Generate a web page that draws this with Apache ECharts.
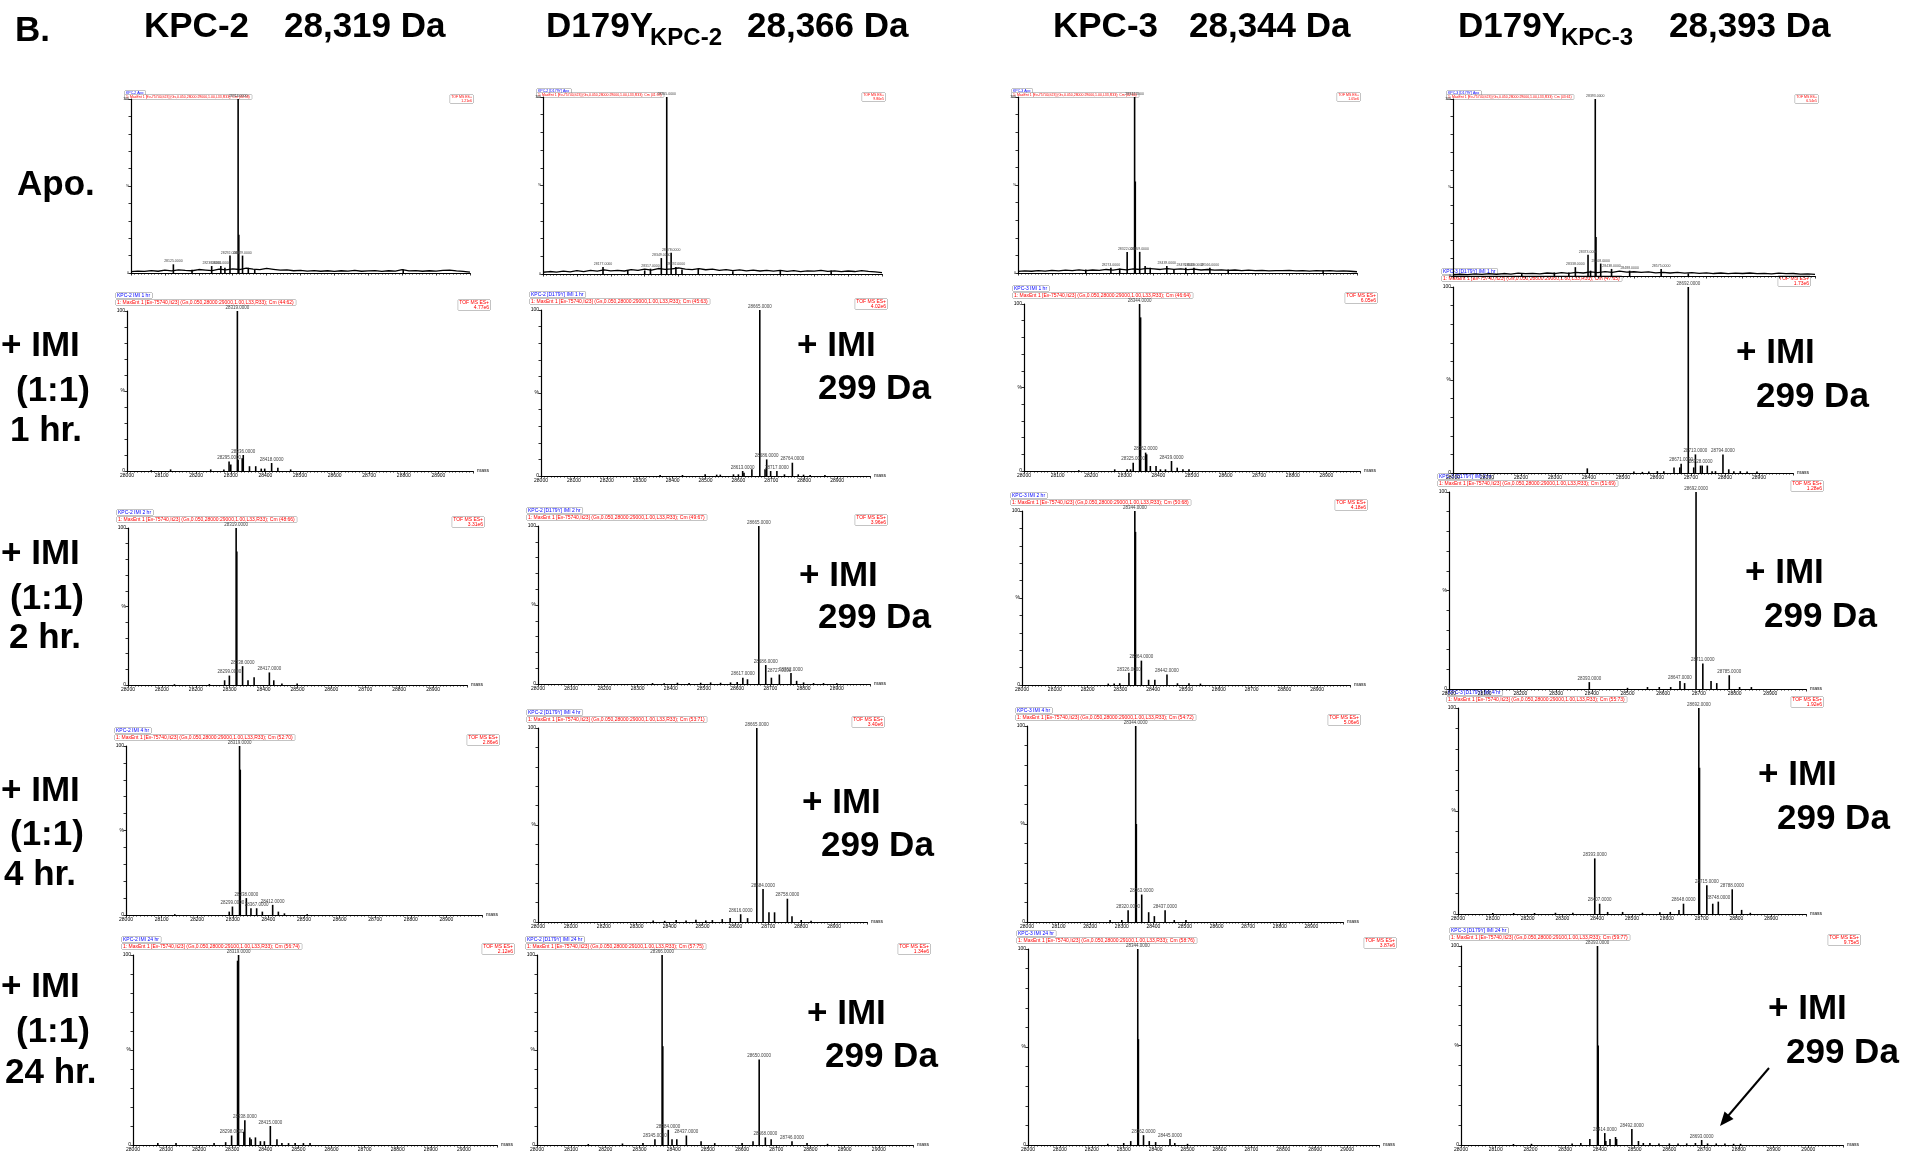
<!DOCTYPE html>
<html><head><meta charset="utf-8">
<script src="https://cdn.jsdelivr.net/npm/echarts@6/dist/echarts.min.js"></script>
<style>html,body{margin:0;padding:0;background:#fff}#c{width:1908px;height:1152px}</style>
</head><body><div id="c"></div>
<script>
// ---------------- DATA ----------------
const columnNames = ["KPC-2", "D179Y", "KPC-3", "D179Y"];
const columnSubs = ["", "KPC-2", "", "KPC-3"];
const columnMasses = ["28,319 Da", "28,366 Da", "28,344 Da", "28,393 Da"];
const rowLabels = [["Apo."], ["+ IMI", "(1:1)", "1 hr."], ["+ IMI", "(1:1)", "2 hr."], ["+ IMI", "(1:1)", "4 hr."], ["+ IMI", "(1:1)", "24 hr."]];
const adductLabel = ["+ IMI", "299 Da"];
const variantTags = ["KPC-2", "KPC-2 [D179Y]", "KPC-3", "KPC-3 [D179Y]"];
const timeTags = ["Apo", "IMI 1 hr", "IMI 2 hr", "IMI 4 hr", "IMI 24 hr"];
const massMin = 28000;
const massMaxByRow = [29000, 29000, 29000, 29000, 29100];
const massTickStep = 100;
const maxIntensity = [ "1.21e6","9.80e5","1.05e6","6.54e5",
  "4.77e6","4.02e6","6.05e6","1.73e6",
  "3.31e6","3.96e6","4.18e6","1.28e6",
  "2.86e6","3.40e6","5.06e6","1.92e6",
  "2.12e6","1.34e6","3.87e6","9.75e5"];

// peaks: [mass (Da), relative intensity (%), labelled?]
const apoKPC2 = [[28125,5,1],[28180,1.8,0],[28238,4,1],[28265,4,1],[28277,3,0],[28292,10,1],[28316,100,1],[28318,22,0],[28329,10,1],[28346,3,0],[28365,2,0],[28803,2,0]];
const apoD179Y2 = [[28177,4,1],[28250,2,0],[28300,2,0],[28317,3,1],[28349,9,1],[28365,100,1],[28378,12,1],[28392,4,1],[28410,2.5,0],[28458,3,0],[28560,1.5,0],[28700,2,0],[28850,2,0]];
const apoKPC3 = [[28200,2,0],[28274,3,1],[28300,2.5,0],[28322,12,1],[28344,100,1],[28346,52,0],[28359,12,1],[28375,4,0],[28390,3,0],[28439,4,1],[28460,2,0],[28495,3,1],[28519,3,1],[28566,3,1],[28620,2,0],[28900,1.5,0]];
const apoD179Y3 = [[28190,1.5,0],[28280,2,0],[28320,2,0],[28338,5,1],[28373,12,1],[28380,3,0],[28393,100,1],[28395,22,0],[28408,7,1],[28438,4,1],[28488,3,1],[28575,4,1],[28650,1.5,0]];

const imi1KPC2 = [[28070,0.5,0],[28126,1,0],[28242,1,0],[28280,1,0],[28295,6,1],[28300,4,0],[28319,100,1],[28321,7,0],[28333,8,0],[28336,10,1],[28354,3,0],[28372,3,0],[28388,1.5,0],[28398,1.5,0],[28418,5,1],[28436,2,0],[28473,1,0]];
const imi1D179Y2 = [[28362,0.6,0],[28430,0.6,0],[28499,1,0],[28534,0.8,0],[28545,0.8,0],[28585,1,0],[28600,1,0],[28613,3,1],[28617,2,0],[28641,4,0],[28665,100,1],[28681,4,0],[28686,10,1],[28698,3,0],[28717,3,1],[28740,1,0],[28764,8,1],[28782,1,0],[28798,0.8,0],[28818,0.6,0],[28863,0.6,0]];
const imi1KPC3 = [[28163,0.5,0],[28270,1,0],[28307,1,0],[28317,1,0],[28325,5,1],[28344,100,1],[28347,92,0],[28362,11,1],[28365,10,0],[28376,3,0],[28393,3,0],[28406,1,0],[28421,1,0],[28439,6,1],[28456,2,0],[28473,1,0],[28491,1,0]];
const imi1D179Y3 = [[28395,2.5,0],[28532,0.8,0],[28557,0.6,0],[28576,0.8,0],[28601,1,0],[28620,1,0],[28650,3,0],[28667,3,0],[28671,5,1],[28692,100,1],[28708,3,0],[28713,10,1],[28728,4,1],[28733,4,0],[28748,4,0],[28762,1,0],[28772,1,0],[28794,10,1],[28811,2,0],[28826,1,0],[28845,1,0],[28865,0.8,0],[28894,0.8,0]];

const imi2KPC2 = [[28137,0.5,0],[28240,0.6,0],[28285,3,0],[28299,6,1],[28319,100,1],[28321,85,0],[28338,12,1],[28354,3,0],[28372,5,0],[28417,8,1],[28430,3,0],[28454,1,0],[28499,1,0]];
const imi2D179Y2 = [[28345,0.6,0],[28380,0.5,0],[28420,0.8,0],[28455,0.6,0],[28490,0.8,0],[28520,1,0],[28550,0.8,0],[28580,1,0],[28600,1.2,0],[28617,4,1],[28631,3,0],[28665,100,1],[28686,12,1],[28703,4,0],[28727,6,1],[28762,7,1],[28779,2,0],[28800,1,0],[28830,0.6,0],[28860,0.6,0],[28900,0.5,0]];
const imi2KPC3 = [[28263,0.8,0],[28281,0.8,0],[28298,1,0],[28326,7,1],[28344,100,1],[28346,88,0],[28364,14,1],[28386,3,0],[28405,3,0],[28442,6,1],[28474,1,0],[28509,1,0],[28544,0.8,0]];
const imi2D179Y3 = [[28393,3.5,1],[28500,0.6,0],[28556,1,0],[28589,1,0],[28621,1,0],[28647,4,1],[28660,3,0],[28692,100,1],[28711,13,1],[28734,4,0],[28750,3,0],[28785,7,1],[28814,1,0],[28847,1,0]];

const imi4KPC2 = [[28137,0.5,0],[28290,2,0],[28299,5,1],[28319,100,1],[28321,86,0],[28338,10,1],[28351,4,0],[28367,4,1],[28383,2,0],[28412,6,1],[28428,2,0],[28445,1,0],[28509,0.5,0]];
const imi4D179Y2 = [[28350,0.8,0],[28385,0.6,0],[28420,1,0],[28450,0.8,0],[28480,1.2,0],[28510,0.8,0],[28530,1,0],[28560,1.5,0],[28584,2,0],[28616,4,1],[28637,2,0],[28665,100,1],[28684,17,1],[28702,5,0],[28719,5,0],[28758,12,1],[28772,3,0],[28800,1,0],[28830,0.6,0]];
const imi4KPC3 = [[28263,1,0],[28300,1,0],[28320,6,1],[28344,100,1],[28346,50,0],[28363,14,1],[28385,5,0],[28403,3,0],[28437,6,1],[28466,1,0],[28503,1,0]];
const imi4D179Y3 = [[28100,0.5,0],[28160,0.5,0],[28220,0.5,0],[28280,0.6,0],[28330,0.6,0],[28393,27,1],[28407,5,1],[28430,1,0],[28473,1,0],[28530,0.6,0],[28580,0.8,0],[28610,1,0],[28635,2,0],[28648,5,1],[28692,100,1],[28694,71,0],[28715,14,1],[28732,5,0],[28748,6,1],[28788,12,1],[28815,2,0],[28840,0.6,0]];

const imi24KPC2 = [[28075,1,0],[28130,1,0],[28245,1,0],[28280,1.5,0],[28298,5,1],[28316,97,0],[28319,100,1],[28335,7,0],[28338,13,1],[28353,4,0],[28357,3,0],[28370,4,0],[28385,2,0],[28397,2,0],[28415,10,1],[28435,3,0],[28450,1,0],[28470,1,0],[28490,1,0],[28515,1,0],[28535,1,0]];
const imi24D179Y2 = [[28150,0.5,0],[28250,0.8,0],[28310,1,0],[28345,3,1],[28366,100,1],[28368,52,0],[28384,8,1],[28395,3,0],[28409,3,0],[28437,5,1],[28480,2,0],[28520,1,0],[28600,1,0],[28632,2,0],[28650,45,1],[28668,4,1],[28685,3,0],[28746,2,1],[28790,1,0],[28850,0.6,0]];
const imi24KPC3 = [[28250,0.6,0],[28300,1,0],[28322,2,0],[28344,100,1],[28346,54,0],[28362,5,1],[28380,2,0],[28400,1.5,0],[28445,3,1],[28460,1,0],[28500,0.6,0]];
const imi24D179Y3 = [[28151,0.5,0],[28203,0.6,0],[28320,0.8,0],[28345,1,0],[28371,3,0],[28393,100,1],[28395,50,0],[28414,6,1],[28417,2,0],[28429,3,0],[28445,4,0],[28448,3,0],[28492,8,1],[28511,2,0],[28525,1,0],[28544,1,0],[28570,0.8,0],[28600,0.8,0],[28625,0.8,0],[28650,0.8,0],[28675,1,0],[28693,2.5,1],[28710,0.8,0],[28735,0.8,0],[28760,0.8,0],[28785,0.6,0],[28805,0.6,0]];

// Apo baseline noise, % intensity every 20 Da from 28000 to 29000
const noiseStep = 20;
const noiseApoKPC2 = [0.8,1.1,0.9,1.4,1.0,1.6,1.2,1.8,1.5,1.3,2.0,1.7,1.4,2.2,1.8,2.4,2.0,2.8,2.2,1.9,2.6,2.1,1.6,1.8,1.3,1.5,1.1,1.4,1.0,1.3,0.9,1.3,1.1,1.5,1.0,1.2,1.4,0.9,1.3,1.1,1.9,1.2,1.4,1.0,1.3,1.1,1.5,1.7,1.2,0.9,0.5];
const noiseApoD179Y2 = [1.0,1.4,1.1,1.6,1.2,1.9,1.4,2.0,1.6,2.3,1.8,2.1,1.7,2.5,2.0,2.7,2.2,3.1,2.6,2.9,3.4,2.8,2.5,3.0,2.4,2.7,2.1,2.5,1.9,2.3,1.8,2.2,1.7,2.0,1.6,2.1,1.5,1.9,1.4,1.8,1.6,2.0,1.5,1.8,1.3,1.7,1.4,1.9,1.5,1.2,0.8];
const noiseApoKPC3 = [0.9,1.2,1.0,1.3,1.1,1.5,1.2,1.6,1.3,1.8,1.4,1.7,1.5,2.0,1.6,2.2,1.8,2.4,2.0,2.6,2.3,2.0,2.5,2.1,2.4,1.9,2.2,1.7,2.0,1.6,1.8,1.5,1.7,1.4,1.6,1.3,1.5,1.2,1.4,1.3,1.5,1.2,1.4,1.1,1.3,1.2,1.4,1.1,1.2,1.0,0.7];
const noiseApoD179Y3 = [0.7,1.0,0.8,1.2,0.9,1.3,1.0,1.4,1.1,1.6,1.3,1.5,1.2,1.7,1.4,1.9,1.5,2.1,1.7,2.3,1.9,2.5,2.0,2.7,2.2,2.4,2.0,2.3,1.8,2.1,1.7,2.0,1.6,1.9,1.5,1.8,1.4,1.7,1.3,1.6,1.4,1.7,1.3,1.5,1.2,1.6,1.3,1.4,1.1,1.2,0.9];

const spectra = [apoKPC2, apoD179Y2, apoKPC3, apoD179Y3,
  imi1KPC2, imi1D179Y2, imi1KPC3, imi1D179Y3,
  imi2KPC2, imi2D179Y2, imi2KPC3, imi2D179Y3,
  imi4KPC2, imi4D179Y2, imi4KPC3, imi4D179Y3,
  imi24KPC2, imi24D179Y2, imi24KPC3, imi24D179Y3];
const noises = [noiseApoKPC2, noiseApoD179Y2, noiseApoKPC3, noiseApoD179Y3];

// ---------------- LAYOUT ----------------
const boxes = [
  [131,99,470,273],[543,97,882,274],[1018,97,1357,273],[1453,99,1815,276],
  [127,311,473,471],[541,310,870,476],[1024,304,1360,471],[1453,287,1793,473],
  [128,528,467,685],[538,526,870,684],[1022,511,1350,685],[1449,492,1806,689],
  [126,746,482,915],[538,728,867,922],[1027,726,1343,922],[1458,708,1806,914],
  [133,955,497,1149],[537,955,913,1149],[1028,949,1379,1149],[1461,946,1843,1149]
];
const FONT = '"Liberation Sans", Arial, Helvetica, sans-serif';
const BIG = 'bold 35px ' + FONT;

const grid = [], xAxis = [], yAxis = [], series = [], graphic = [];
spectra.forEach((peaks, i) => {
  const [l, t, r, b] = boxes[i];
  const row = Math.floor(i / 4), col = i % 4;
  const mMax = massMaxByRow[row];
  const small = row === 0 ? 3.5 : 5;
  grid.push({left: l, top: t, width: r - l, height: b - t});
  xAxis.push({
    type: 'value', gridIndex: i, min: massMin, max: mMax, interval: massTickStep,
    axisLine: {show: true, onZero: false, lineStyle: {color: '#000', width: 1.2}},
    axisTick: {show: true, length: 2.5, lineStyle: {color: '#000', width: 0.8}},
    minorTick: {show: true, splitNumber: 10, length: 1.6, lineStyle: {color: '#000', width: 0.7}},
    splitLine: {show: false}, minorSplitLine: {show: false},
    axisLabel: {show: row > 0, fontSize: 5, margin: 2, color: '#000', fontFamily: FONT,
      formatter: v => (v >= mMax - 50 ? '' : String(v))},
    name: row > 0 ? 'mass' : '', nameLocation: 'end', nameGap: 4,
    nameTextStyle: {fontSize: 5, color: '#000', fontFamily: FONT}
  });
  yAxis.push({
    type: 'value', gridIndex: i, min: 0, max: 100, interval: 10,
    axisLine: {show: true, lineStyle: {color: '#000', width: 1.2}},
    axisTick: {show: true, length: 2.5, lineStyle: {color: '#000', width: 0.8}},
    splitLine: {show: false},
    axisLabel: {show: true, fontSize: small, margin: 2, color: '#000', fontFamily: FONT,
      formatter: v => (v === 100 ? '100' : v === 50 ? '%' : v === 0 ? '0' : '')}
  });
  series.push({
    type: 'bar', xAxisIndex: i, yAxisIndex: i, barWidth: 1.6, silent: true,
    itemStyle: {color: '#000'},
    data: peaks.map(([m, v, lab]) => ({
      value: [m, v],
      label: lab ? {show: true, position: 'top', distance: 1, fontSize: row === 0 ? 3.5 : 4.5,
        color: '#444', fontFamily: FONT, formatter: m.toFixed(4)} : {show: false}
    }))
  });
  if (row === 0) {
    series.push({
      type: 'line', xAxisIndex: i, yAxisIndex: i, showSymbol: false, silent: true,
      lineStyle: {color: '#000', width: 1.3},
      data: noises[col].map((v, k) => [massMin + k * noiseStep, v])
    });
  }
  // instrument header boxes
  const hs = small;
  const off = row === 0 ? [6, 8, 4] : [11, 18, 11];
  graphic.push({type: 'text', x: l - off[0], y: t - off[1], silent: true,
    style: {text: variantTags[col] + ' ' + timeTags[row], fill: '#0000ff', fontSize: hs, fontFamily: FONT,
      borderColor: '#888', borderWidth: 0.5, padding: [0, 2, 0, 1], backgroundColor: '#fff'}});
  graphic.push({type: 'text', x: l - off[0], y: t - off[2], silent: true,
    style: {text: '1: MaxEnt 1 [Ev-75740,It23] (Gs,0.050,28000:' + mMax + ',1.00,L33,R33); Cm (' + (40 + i) + ':' + (58 + i) + ')',
      fill: '#ff0000', fontSize: hs, fontFamily: FONT, borderColor: '#888', borderWidth: 0.5, padding: [0, 2, 0, 1], backgroundColor: '#fff'}});
  graphic.push({type: 'text', x: r + (row === 0 ? 3 : 17), y: t - off[2], silent: true,
    style: {text: 'TOF MS ES+\n' + maxIntensity[i], fill: '#ff0000', fontSize: hs, fontFamily: FONT, align: 'right',
      borderColor: '#888', borderWidth: 0.5, padding: [0, 1, 0, 1], backgroundColor: '#fff'}});
});

// panel letter and column titles
graphic.push({type: 'text', x: 15, y: 31, style: {text: 'B.', font: BIG, fill: '#000', verticalAlign: 'middle'}});
const titleX = [[144, 0, 284], [546, 650, 747], [1053, 0, 1189], [1458, 1561, 1669]];
columnNames.forEach((n, c) => {
  graphic.push({type: 'text', x: titleX[c][0], y: 27, style: {text: n, font: BIG, fill: '#000', verticalAlign: 'middle'}});
  if (columnSubs[c]) graphic.push({type: 'text', x: titleX[c][1], y: 38, style: {text: columnSubs[c], font: 'bold 24px ' + FONT, fill: '#000', verticalAlign: 'middle'}});
  graphic.push({type: 'text', x: titleX[c][2], y: 27, style: {text: columnMasses[c], font: BIG, fill: '#000', verticalAlign: 'middle'}});
});
// row labels
const rowLabelPos = [[[17,185]], [[1,346],[16,391],[10,431]], [[1,554],[10,599],[9,638]], [[1,791],[10,835],[4,875]], [[1,987],[16,1032],[5,1073]]];
rowLabels.forEach((lines, r) => lines.forEach((s, k) => {
  graphic.push({type: 'text', x: rowLabelPos[r][k][0], y: rowLabelPos[r][k][1], style: {text: s, font: BIG, fill: '#000', verticalAlign: 'middle'}});
}));
// adduct annotations
const adductPos = [[797,346,818,389],[799,576,818,618],[802,803,821,846],[807,1014,825,1057],
                   [1736,353,1756,397],[1745,573,1764,617],[1758,775,1777,819],[1768,1009,1786,1053]];
adductPos.forEach(p => {
  graphic.push({type: 'text', x: p[0], y: p[1], style: {text: adductLabel[0], font: BIG, fill: '#000', verticalAlign: 'middle'}});
  graphic.push({type: 'text', x: p[2], y: p[3], style: {text: adductLabel[1], font: BIG, fill: '#000', verticalAlign: 'middle'}});
});
// arrow
graphic.push({type: 'line', shape: {x1: 1769, y1: 1068, x2: 1728, y2: 1116}, style: {stroke: '#000', lineWidth: 2}});
graphic.push({type: 'polygon', shape: {points: [[1720, 1126], [1733.5, 1119], [1724.5, 1111.5]]}, style: {fill: '#000'}});

const chart = echarts.init(document.getElementById('c'), null, {renderer: 'canvas'});
chart.setOption({animation: false, textStyle: {fontFamily: FONT}, grid, xAxis, yAxis, series, graphic});
</script>
</body></html>
